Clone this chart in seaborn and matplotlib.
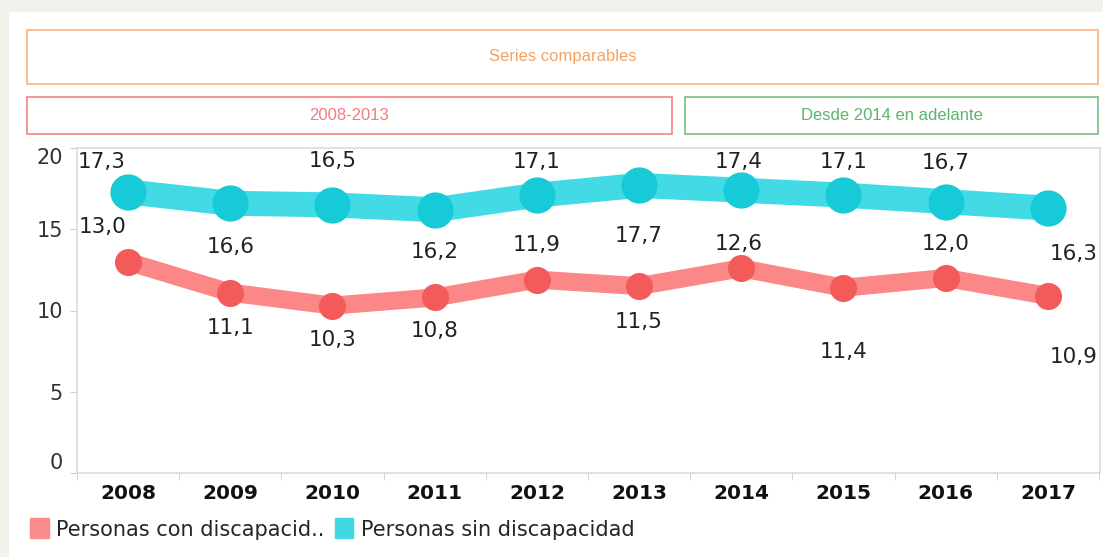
import seaborn as sns
import matplotlib.pyplot as plt
import pandas as pd
from matplotlib.patches import Rectangle, Patch

# datos
anios = [2008, 2009, 2010, 2011, 2012, 2013, 2014, 2015, 2016, 2017]
con_discapacidad = [13.0, 11.1, 10.3, 10.8, 11.9, 11.5, 12.6, 11.4, 12.0, 10.9]
sin_discapacidad = [17.3, 16.6, 16.5, 16.2, 17.1, 17.7, 17.4, 17.1, 16.7, 16.3]
series = ['Personas con discapacid..', 'Personas sin discapacidad']
y_ticks = [0, 5, 10, 15, 20]

# desplazamiento de las etiquetas (pixeles)
off_con = [(-26, 35), (0, -35), (0, -34), (0, -34), (0, 35), (0, -36), (-3, 24), (0, -64), (0, 34), (26, -61)]
off_sin = [(-26, 30), (0, -44), (0, 44), (0, -42), (0, 33), (0, -51), (-3, 28), (0, 33), (0, 39), (26, -46)]

col_con_linea, col_con_punto = '#fb8787', '#f35b5b'
col_sin_linea, col_sin_punto = '#42dbe5', '#17cad7'

W, H = 1103, 557
sns.set_style('white')
plt.rcParams['font.family'] = ['DejaVu Sans']

fig = plt.figure(figsize=(W / 100, H / 100), dpi=100)
fig.patch.set_facecolor('#f3f1ec')


def px(x, y):
    return x / W, 1 - y / H


# panel blanco
fig.add_artist(Rectangle(px(9, H), 1, 1 - 12 / H, transform=fig.transFigure,
                         facecolor='white', edgecolor='none', zorder=0))


def caja(x0, y0, x1, y1, borde, texto, color_txt):
    fig.add_artist(Rectangle(px(x0, y1), (x1 - x0) / W, (y1 - y0) / H, transform=fig.transFigure,
                             facecolor='white', edgecolor=borde, linewidth=1.3, zorder=1))
    fig.text(*px((x0 + x1) / 2, (y0 + y1) / 2), texto, color=color_txt, ha='center', va='center',
             fontsize=12, family='Liberation Sans', zorder=2)


caja(27, 30, 1098, 84, '#f9b88a', 'Series comparables', '#f5a260')
caja(27, 97, 672, 134, '#f38e8e', '2008-2013', '#f07c7c')
caja(685, 97, 1098, 134, '#82c28c', 'Desde 2014 en adelante', '#5db46c')

ax = fig.add_axes([77 / W, (H - 473) / H, (1100 - 77) / W, (473 - 148) / H])
ax.set_facecolor('white')

df = pd.DataFrame({
    'x': list(range(len(anios))) * 2,
    'valor': con_discapacidad + sin_discapacidad,
    'serie': [series[0]] * len(anios) + [series[1]] * len(anios),
})
con = df[df['serie'] == series[0]]
sin = df[df['serie'] == series[1]]

sns.lineplot(data=sin, x='x', y='valor', color=col_sin_linea, linewidth=18, ax=ax,
             solid_capstyle='round', solid_joinstyle='round', zorder=2)
sns.scatterplot(data=sin, x='x', y='valor', color=col_sin_punto, s=680, linewidth=0, ax=ax, zorder=3)
sns.lineplot(data=con, x='x', y='valor', color=col_con_linea, linewidth=13, ax=ax,
             solid_capstyle='round', solid_joinstyle='round', zorder=2)
sns.scatterplot(data=con, x='x', y='valor', color=col_con_punto, s=380, linewidth=0, ax=ax, zorder=3)

for datos, offs in [(con, off_con), (sin, off_sin)]:
    for (x, v), (dx, dy) in zip(zip(datos['x'], datos['valor']), offs):
        ax.annotate(f'{v:.1f}'.replace('.', ','), (x, v), xytext=(dx, dy), textcoords='offset pixels',
                    ha='center', va='center', fontsize=15.5, color='#222222', zorder=4)

ax.set_xlim(-0.49, len(anios) - 0.49)
ax.set_ylim(0, 20)
ax.set_xticks(range(len(anios)))
ax.set_xticklabels(anios, fontsize=14.5, fontweight='bold', color='#111111')
ax.set_xticks([i + 0.5 for i in range(-1, len(anios))], minor=True)
ax.tick_params(axis='x', which='major', length=0, pad=8)
ax.tick_params(axis='x', which='minor', length=5, color='#cccccc', bottom=True)
ax.set_yticks(y_ticks)
ax.set_yticklabels([str(t) for t in y_ticks], fontsize=15, color='#333333')
ax.tick_params(axis='y', length=5, color='#cccccc', left=True, pad=5)
lbls = ax.get_yticklabels()
lbls[0].set_va('bottom')
lbls[-1].set_va('top')
ax.set_xlabel('')
ax.set_ylabel('')
for s in ax.spines.values():
    s.set_color('#dcdcdc')
    s.set_linewidth(1.2)

handles = [Patch(color='#fa8b8b'), Patch(color='#3fd8e2')]
fig.legend(handles, series, loc='center left', bbox_to_anchor=px(11, 529), ncol=2, frameon=False,
           fontsize=15, handlelength=0.9, handleheight=1.1, handletextpad=0.35, columnspacing=0.5)

fig.savefig('out.png', dpi=100, facecolor=fig.get_facecolor())
